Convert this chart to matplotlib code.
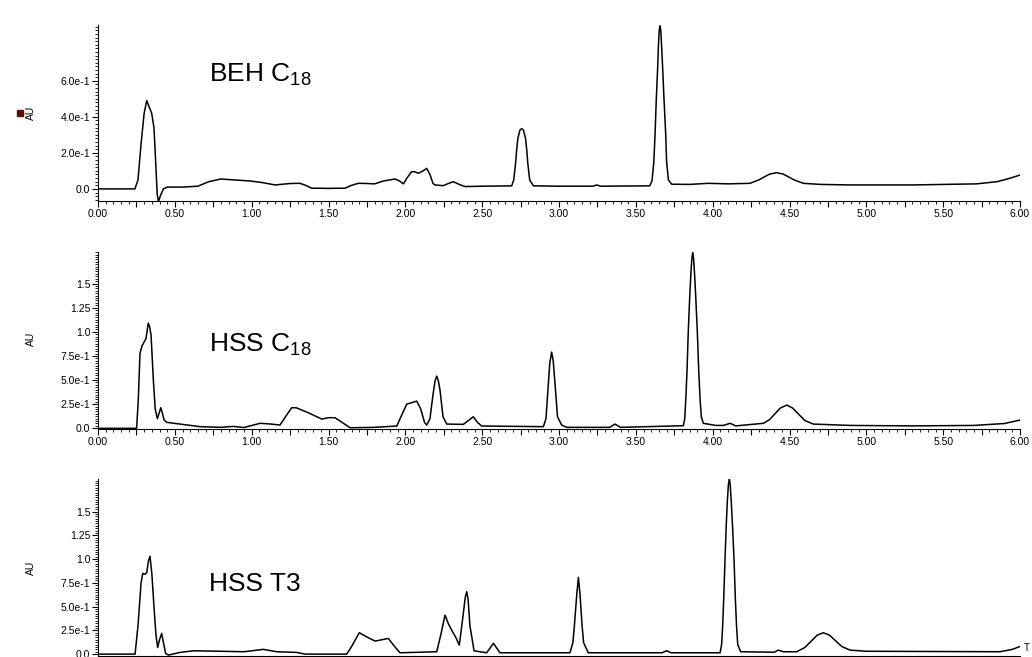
# Three stacked UV chromatograms (BEH C18, HSS C18, HSS T3) over 0-6 min
import matplotlib
matplotlib.use('Agg')
import matplotlib.pyplot as plt
from matplotlib.ticker import MultipleLocator, FuncFormatter
from matplotlib.patches import Rectangle

plt.rcParams['font.family'] = ['Liberation Sans', 'DejaVu Sans']
plt.rcParams['mathtext.fontset'] = 'custom'
plt.rcParams['mathtext.rm'] = 'Liberation Sans'
plt.rcParams['mathtext.it'] = 'Liberation Sans'
plt.rcParams['mathtext.default'] = 'regular'

# Values: time (min) and absorbance (AU)
beh_time = [0.00, 0.24, 0.26, 0.28, 0.30, 0.317, 0.335, 0.349, 0.364, 0.375, 0.385, 0.393, 0.405,
            0.425, 0.45, 0.55, 0.65, 0.72, 0.80, 0.88, 0.99, 1.07, 1.152, 1.25, 1.314, 1.35, 1.39,
            1.50, 1.607, 1.65, 1.694, 1.75, 1.80, 1.857, 1.933, 1.96, 1.987, 2.01, 2.041, 2.06,
            2.085, 2.115, 2.139, 2.16, 2.18, 2.193, 2.247, 2.28, 2.312, 2.35, 2.388, 2.50, 2.692,
            2.705, 2.717, 2.724, 2.732, 2.745, 2.757, 2.769, 2.782, 2.79, 2.797, 2.809, 2.833,
            3.00, 3.22, 3.245, 3.27, 3.59, 3.605, 3.617, 3.625, 3.633, 3.642, 3.647, 3.652, 3.657,
            3.662, 3.667, 3.674, 3.683, 3.694, 3.70, 3.712, 3.733, 3.85, 3.972, 4.10, 4.243, 4.30,
            4.37, 4.417, 4.46, 4.53, 4.59, 4.70, 4.894, 5.30, 5.718, 5.85, 5.93, 6.00]
beh_au = [0.0, 0.0, 0.05, 0.25, 0.42, 0.49, 0.45, 0.42, 0.34, 0.15, -0.03, -0.07, -0.04,
          0.0, 0.01, 0.01, 0.015, 0.04, 0.055, 0.05, 0.044, 0.035, 0.022, 0.03, 0.031, 0.02, 0.004,
          0.003, 0.004, 0.02, 0.031, 0.03, 0.028, 0.044, 0.055, 0.045, 0.028, 0.06, 0.096, 0.095,
          0.087, 0.10, 0.114, 0.08, 0.03, 0.022, 0.018, 0.03, 0.04, 0.025, 0.013, 0.015, 0.017,
          0.05, 0.14, 0.215, 0.28, 0.325, 0.335, 0.325, 0.28, 0.215, 0.14, 0.05, 0.017,
          0.015, 0.015, 0.022, 0.015, 0.017, 0.045, 0.15, 0.307, 0.5, 0.676, 0.80, 0.88, 0.906,
          0.88, 0.80, 0.676, 0.5, 0.307, 0.15, 0.05, 0.026, 0.025, 0.031, 0.028, 0.031, 0.05,
          0.082, 0.09, 0.082, 0.05, 0.031, 0.025, 0.022, 0.022, 0.028, 0.04, 0.058, 0.077]

hssc18_time = [0.00, 0.251, 0.262, 0.273, 0.285, 0.295, 0.312, 0.327, 0.336, 0.345, 0.36, 0.372,
               0.386, 0.398, 0.408, 0.418, 0.43, 0.447, 0.534, 0.664, 0.80, 0.88, 0.95, 1.054,
               1.12, 1.184, 1.22, 1.26, 1.29, 1.37, 1.456, 1.50, 1.542, 1.58, 1.64, 1.80, 1.944,
               1.98, 2.009, 2.04, 2.074, 2.10, 2.125, 2.139, 2.16, 2.18, 2.193, 2.204, 2.215, 2.225,
               2.245, 2.269, 2.377, 2.41, 2.442, 2.47, 2.497, 2.898, 2.915, 2.93, 2.94, 2.952,
               2.962, 2.972, 2.99, 3.017, 3.05, 3.33, 3.364, 3.40, 3.809, 3.818, 3.825, 3.833,
               3.841, 3.85, 3.858, 3.864, 3.87, 3.876, 3.882, 3.89, 3.90, 3.909, 3.918, 3.926,
               3.939, 4.02, 4.07, 4.113, 4.15, 4.33, 4.37, 4.44, 4.482, 4.52, 4.60, 4.655, 4.894,
               5.30, 5.70, 5.90, 6.00]
hssc18_au = [0.0, 0.0, 0.3, 0.775, 0.85, 0.88, 0.93, 1.09, 1.05, 0.965, 0.5, 0.2,
             0.10, 0.16, 0.213, 0.16, 0.086, 0.062, 0.044, 0.017, 0.01, 0.02, 0.008, 0.052,
             0.045, 0.034, 0.12, 0.213, 0.213, 0.16, 0.096, 0.11, 0.11, 0.07, 0.006, 0.01, 0.024,
             0.15, 0.251, 0.265, 0.282, 0.2, 0.06, 0.034, 0.10, 0.35, 0.49, 0.541, 0.49, 0.40,
             0.12, 0.044, 0.041, 0.08, 0.12, 0.06, 0.024, 0.017, 0.10, 0.45, 0.68, 0.79,
             0.70, 0.50, 0.12, 0.034, 0.01, 0.01, 0.044, 0.01, 0.027, 0.1, 0.3, 0.6,
             1.0, 1.35, 1.6, 1.75, 1.826, 1.75, 1.6, 1.35, 1.0, 0.6, 0.3, 0.12,
             0.052, 0.03, 0.03, 0.052, 0.025, 0.052, 0.09, 0.21, 0.241, 0.21, 0.08, 0.044, 0.03,
             0.025, 0.03, 0.05, 0.086]

hsst3_time = [0.00, 0.241, 0.26, 0.28, 0.291, 0.305, 0.317, 0.328, 0.338, 0.35, 0.364, 0.377,
              0.388, 0.40, 0.414, 0.428, 0.44, 0.458, 0.534, 0.62, 0.80, 0.95, 1.076, 1.163,
              1.293, 1.347, 1.618, 1.65, 1.70, 1.75, 1.803, 1.889, 1.93, 1.965, 2.204, 2.23,
              2.258, 2.28, 2.301, 2.33, 2.351, 2.375, 2.39, 2.399, 2.408, 2.42, 2.447, 2.529,
              2.573, 2.616, 3.071, 3.09, 3.10, 3.115, 3.126, 3.137, 3.15, 3.16, 3.19, 3.67, 3.70,
              3.73, 4.048, 4.058, 4.065, 4.072, 4.08, 4.088, 4.095, 4.102, 4.108, 4.114, 4.121,
              4.129, 4.139, 4.147, 4.155, 4.163, 4.182, 4.40, 4.427, 4.46, 4.547, 4.60, 4.68,
              4.72, 4.76, 4.84, 4.894, 5.00, 5.87, 5.95, 6.01]
hsst3_au = [0.0, 0.0, 0.3, 0.75, 0.85, 0.84, 0.857, 0.98, 1.03, 0.85, 0.5, 0.2,
            0.07, 0.15, 0.218, 0.10, 0.007, -0.01, 0.018, 0.035, 0.03, 0.025, 0.05, 0.025,
            0.018, 0.0, 0.0, 0.08, 0.225, 0.18, 0.137, 0.165, 0.08, 0.014, 0.025, 0.2,
            0.41, 0.32, 0.253, 0.17, 0.095, 0.4, 0.6, 0.657, 0.58, 0.3, 0.035, 0.014,
            0.113, 0.014, 0.014, 0.12, 0.3, 0.62, 0.808, 0.62, 0.3, 0.12, 0.014, 0.014, 0.035,
            0.014, 0.014, 0.1, 0.3, 0.6, 0.99, 1.35, 1.6, 1.78, 1.85, 1.78, 1.6,
            1.35, 0.99, 0.6, 0.3, 0.1, 0.025, 0.02, 0.042, 0.025, 0.025, 0.07, 0.2,
            0.225, 0.2, 0.08, 0.042, 0.03, 0.025, 0.05, 0.087]

# y ticks and labels for each panel
beh_yticks = [0.0, 0.2, 0.4, 0.6]
beh_ylabels = ['0.0', '2.0e-1', '4.0e-1', '6.0e-1']
hss_yticks = [0.0, 0.25, 0.5, 0.75, 1.0, 1.25, 1.5]
hss_ylabels = ['0.0', '2.5e-1', '5.0e-1', '7.5e-1', '1.0', '1.25', '1.5']

panels = [
    ('BEH C$_{18}$', beh_time, beh_au, (-0.067, 0.91), beh_yticks, beh_ylabels, 0.02, 0.676),
    ('HSS C$_{18}$', hssc18_time, hssc18_au, (-0.01, 1.83), hss_yticks, hss_ylabels, 0.025, 0.435),
    ('HSS T3', hsst3_time, hsst3_au, (-0.02, 1.84), hss_yticks, hss_ylabels, 0.025, 0.37),
]
# axes rectangles (left, bottom, width, height) in figure fraction
boxes = [(0.095, 0.6941, 0.8934, 0.2679),
         (0.095, 0.3466, 0.8934, 0.2703),
         (0.095, 0.0015, 0.8934, 0.2690)]
au_label_y = [113, 339, 568]

fig = plt.figure(figsize=(10.32, 6.57), dpi=100)

for i, ((name, t, au, ylim, yt, yl, yminor, ty), box, ly) in enumerate(zip(panels, boxes, au_label_y)):
    ax = fig.add_axes(box)
    ax.plot(t, au, color='black', lw=1.1)
    ax.set_xlim(0, 6.0)
    ax.set_ylim(*ylim)
    for s in ['top', 'right']:
        ax.spines[s].set_visible(False)
    ax.xaxis.set_major_locator(MultipleLocator(0.25))
    ax.xaxis.set_minor_locator(MultipleLocator(0.05))
    ax.xaxis.set_major_formatter(FuncFormatter(
        lambda v, p: '%.2f' % v if abs(v / 0.5 - round(v / 0.5)) < 1e-6 else ''))
    ax.set_yticks(yt)
    ax.set_yticklabels(yl)
    ax.yaxis.set_minor_locator(MultipleLocator(yminor))
    ax.tick_params(axis='both', which='major', length=4, width=0.8, labelsize=7.5, pad=1.5,
                   direction='out')
    ax.tick_params(axis='both', which='minor', length=2, width=0.6, direction='out')
    if i == 2:
        # bottom panel's time labels fall below the picture edge
        ax.tick_params(axis='x', labelbottom=False)
    ax.text(0.12, ty, name, transform=ax.transAxes, fontsize=19, va='baseline', ha='left')
    fig.text(31 / 1032, 1 - ly / 657, 'AU', rotation=90, fontsize=7.5, ha='center', va='center')

# small marker square beside the first AU label
fig.patches.append(Rectangle((17 / 1032, 1 - 116 / 657), 6 / 1032, 6 / 657,
                             transform=fig.transFigure, color='#5a0c0c', zorder=5))
fig.text(1024 / 1032, 1 - 648 / 657, 'T', fontsize=7, ha='left', va='center')

fig.savefig('out.png', dpi=100)
